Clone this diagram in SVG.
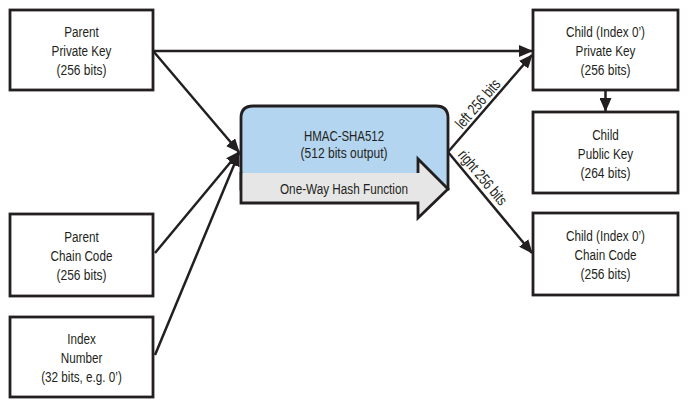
<svg xmlns="http://www.w3.org/2000/svg" width="688" height="405" viewBox="0 0 688 405">
<style>
.box{fill:#fff;stroke:#231f20;stroke-width:2.8}
.t{font-family:"Liberation Sans",Arial,sans-serif;font-size:15.5px;fill:#231f20;text-anchor:middle}
.c{fill:none;stroke:#231f20;stroke-width:2.5}
</style>
<defs>
<marker id="ah" markerUnits="userSpaceOnUse" markerWidth="14" markerHeight="12" refX="13" refY="6" orient="auto">
<path d="M0,0 L14,6 L0,12 Z" fill="#231f20"/>
</marker>
</defs>
<rect width="688" height="405" fill="#fff"/>
<g id="connectors">
<line class="c" x1="154" y1="51" x2="532" y2="51" marker-end="url(#ah)"/>
<line class="c" x1="154" y1="52" x2="239" y2="152" marker-end="url(#ah)"/>
<line class="c" x1="155" y1="253" x2="239" y2="152" marker-end="url(#ah)"/>
<line class="c" x1="155" y1="355" x2="239" y2="153" marker-end="url(#ah)"/>
<line class="c" x1="448" y1="152" x2="532" y2="55" marker-end="url(#ah)"/>
<line class="c" x1="448" y1="152" x2="532" y2="253" marker-end="url(#ah)"/>
<line class="c" x1="605.5" y1="90" x2="605.5" y2="111" marker-end="url(#ah)"/>
<text class="t" transform="translate(481.8,107.2) rotate(-49.1)" textLength="59.8" lengthAdjust="spacingAndGlyphs">left 256 bits</text>
<text class="t" transform="translate(478.8,180.9) rotate(49.9)" textLength="67" lengthAdjust="spacingAndGlyphs">right 256 bits</text>
</g>
<g id="parent-private-key">
<rect class="box" x="10" y="10" width="143" height="80"/>
<text class="t" x="81.5" y="37" textLength="34.5" lengthAdjust="spacingAndGlyphs">Parent</text>
<text class="t" x="81.5" y="56" textLength="59.8" lengthAdjust="spacingAndGlyphs">Private Key</text>
<text class="t" x="81.5" y="75" textLength="50" lengthAdjust="spacingAndGlyphs">(256 bits)</text>
</g>
<g id="parent-chain-code">
<rect class="box" x="10" y="214" width="143" height="82"/>
<text class="t" x="81.5" y="242" textLength="34.5" lengthAdjust="spacingAndGlyphs">Parent</text>
<text class="t" x="81.5" y="261" textLength="61.8" lengthAdjust="spacingAndGlyphs">Chain Code</text>
<text class="t" x="81.5" y="280" textLength="50" lengthAdjust="spacingAndGlyphs">(256 bits)</text>
</g>
<g id="index-number">
<rect class="box" x="10" y="317" width="143" height="80"/>
<text class="t" x="81.5" y="344" textLength="28.6" lengthAdjust="spacingAndGlyphs">Index</text>
<text class="t" x="81.5" y="363" textLength="41.6" lengthAdjust="spacingAndGlyphs">Number</text>
<text class="t" x="81.5" y="382" textLength="80.6" lengthAdjust="spacingAndGlyphs">(32 bits, e.g. 0’)</text>
</g>
<g id="hmac-sha512">
<path d="M241,189 V118 Q241,106 253,106 H436 Q448,106 448,118 V189 Z" fill="#b4d5ef" stroke="#231f20" stroke-width="2.8"/>
<path d="M241,173 H418 V159 L448,189 L418,218 V203 H241 Z" fill="#e6e6e6"/>
<path d="M241,172 V203 H418 V218 L448,189 L418,159 V173" fill="none" stroke="#231f20" stroke-width="2.8" stroke-linejoin="miter"/>
<text class="t" x="344" y="141" textLength="80" lengthAdjust="spacingAndGlyphs">HMAC-SHA512</text>
<text class="t" x="344" y="158" textLength="87" lengthAdjust="spacingAndGlyphs">(512 bits output)</text>
<text class="t" x="344" y="194" textLength="128" lengthAdjust="spacingAndGlyphs">One-Way Hash Function</text>
</g>
<g id="child-private-key">
<rect class="box" x="533" y="10" width="145" height="80"/>
<text class="t" x="605.5" y="37" textLength="79" lengthAdjust="spacingAndGlyphs">Child (Index 0’)</text>
<text class="t" x="605.5" y="56" textLength="59.8" lengthAdjust="spacingAndGlyphs">Private Key</text>
<text class="t" x="605.5" y="75" textLength="50" lengthAdjust="spacingAndGlyphs">(256 bits)</text>
</g>
<g id="child-public-key">
<rect class="box" x="533" y="112" width="145" height="81"/>
<text class="t" x="605.5" y="139.5" textLength="26.7" lengthAdjust="spacingAndGlyphs">Child</text>
<text class="t" x="605.5" y="158.5" textLength="55.3" lengthAdjust="spacingAndGlyphs">Public Key</text>
<text class="t" x="605.5" y="177.5" textLength="50" lengthAdjust="spacingAndGlyphs">(264 bits)</text>
</g>
<g id="child-chain-code">
<rect class="box" x="533" y="213" width="145" height="82"/>
<text class="t" x="605.5" y="241" textLength="79" lengthAdjust="spacingAndGlyphs">Child (Index 0’)</text>
<text class="t" x="605.5" y="260" textLength="61.8" lengthAdjust="spacingAndGlyphs">Chain Code</text>
<text class="t" x="605.5" y="279" textLength="50" lengthAdjust="spacingAndGlyphs">(256 bits)</text>
</g>
</svg>
